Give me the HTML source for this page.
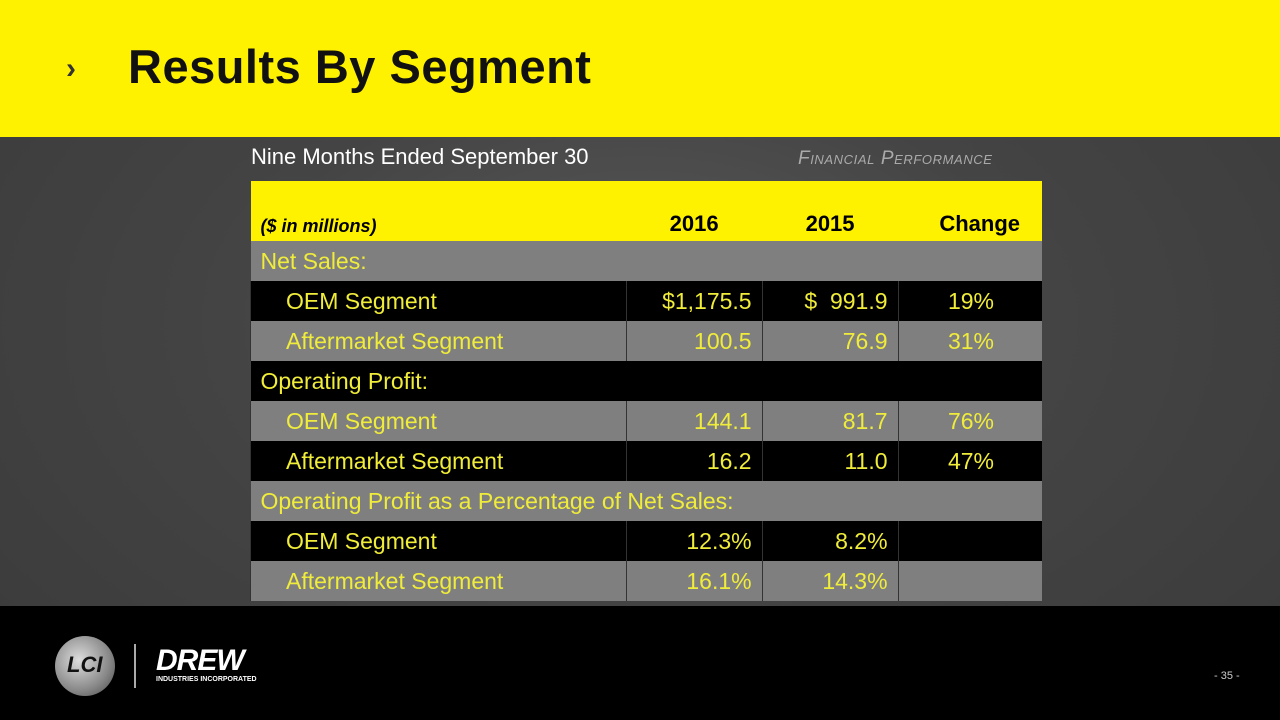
<!DOCTYPE html>
<html><head><meta charset="utf-8"><style>
*{margin:0;padding:0;box-sizing:border-box}
body{width:1280px;height:720px;overflow:hidden;position:relative;font-family:"Liberation Sans",sans-serif;background:radial-gradient(ellipse at 50% 45%,#5a5a5a 0%,#444 45%,#3a3a3a 100%)}
.top{position:absolute;left:0;top:0;width:1280px;height:137px;background:#fff200}
.title{position:absolute;left:128px;top:39px;font-size:47px;font-weight:bold;color:#111;letter-spacing:0.5px}
.chev{position:absolute;left:66px;top:52px;font-size:30px;font-weight:bold;color:#333}
.sub{position:absolute;left:251px;top:144px;font-size:22px;color:#fff}
.fp{position:absolute;left:798px;top:148px;font-size:19px;font-style:italic;color:#aaa;font-variant:small-caps;letter-spacing:0.6px}
table{position:absolute;left:250px;top:181px;border-collapse:collapse;width:792px}
td{height:40px;font-size:23px;color:#f0ec3a;padding:0 10px;border-left:1px solid #333}
td.n{text-align:right}
tr.g td{background:#7f7f7f}
tr.b td{background:#000}
tr.h td{background:#fff200;color:#000;height:60px;vertical-align:bottom;padding-bottom:4px;font-weight:bold;font-size:22px;border:none}
.ind{padding-left:35px}
.foot{position:absolute;left:0;top:606px;width:1280px;height:114px;background:#000}
</style></head><body>
<div class="top"></div>
<div class="chev">›</div>
<div class="title">Results By Segment</div>
<div class="sub">Nine Months Ended September 30</div>
<div class="fp">Financial Performance</div>
<table>
<colgroup><col style="width:376px"><col style="width:136px"><col style="width:136px"><col style="width:144px"></colgroup>
<tr class="h"><td style="font-style:italic;font-size:18px">($ in millions)</td><td style="text-align:center">2016</td><td style="text-align:center">2015</td><td style="text-align:right;padding-right:22px">Change</td></tr>
<tr class="g"><td colspan="4" style="border:none">Net Sales:</td></tr>
<tr class="b"><td class="ind">OEM Segment</td><td class="n">$1,175.5</td><td class="n">$&nbsp;&nbsp;991.9</td><td class="n" style="padding-right:48px">19%</td></tr>
<tr class="g"><td class="ind">Aftermarket Segment</td><td class="n">100.5</td><td class="n">76.9</td><td class="n" style="padding-right:48px">31%</td></tr>
<tr class="b"><td colspan="4" style="border:none">Operating Profit:</td></tr>
<tr class="g"><td class="ind">OEM Segment</td><td class="n">144.1</td><td class="n">81.7</td><td class="n" style="padding-right:48px">76%</td></tr>
<tr class="b"><td class="ind">Aftermarket Segment</td><td class="n">16.2</td><td class="n">11.0</td><td class="n" style="padding-right:48px">47%</td></tr>
<tr class="g"><td colspan="4" style="border:none">Operating Profit as a Percentage of Net Sales:</td></tr>
<tr class="b"><td class="ind">OEM Segment</td><td class="n">12.3%</td><td class="n">8.2%</td><td></td></tr>
<tr class="g"><td class="ind">Aftermarket Segment</td><td class="n">16.1%</td><td class="n">14.3%</td><td></td></tr>
</table>
<div class="foot">
<div style="position:absolute;left:55px;top:30px;width:60px;height:60px;border-radius:50%;background:radial-gradient(circle at 40% 40%,#ddd,#888 60%,#444);"><span style="position:absolute;left:12px;top:16px;font-weight:bold;font-style:italic;font-size:22px;color:#111">LCI</span></div>
<div style="position:absolute;left:134px;top:38px;width:2px;height:44px;background:#aaa"></div>
<div style="position:absolute;left:156px;top:38px;font-size:30px;font-weight:bold;font-style:italic;color:#fff;letter-spacing:-1px">DREW</div>
<div style="position:absolute;left:156px;top:70px;font-size:7px;font-weight:bold;color:#fff">INDUSTRIES INCORPORATED</div>
<div style="position:absolute;left:1214px;top:64px;font-size:11px;color:#ccc">- 35 -</div>
</div>
</body></html>
